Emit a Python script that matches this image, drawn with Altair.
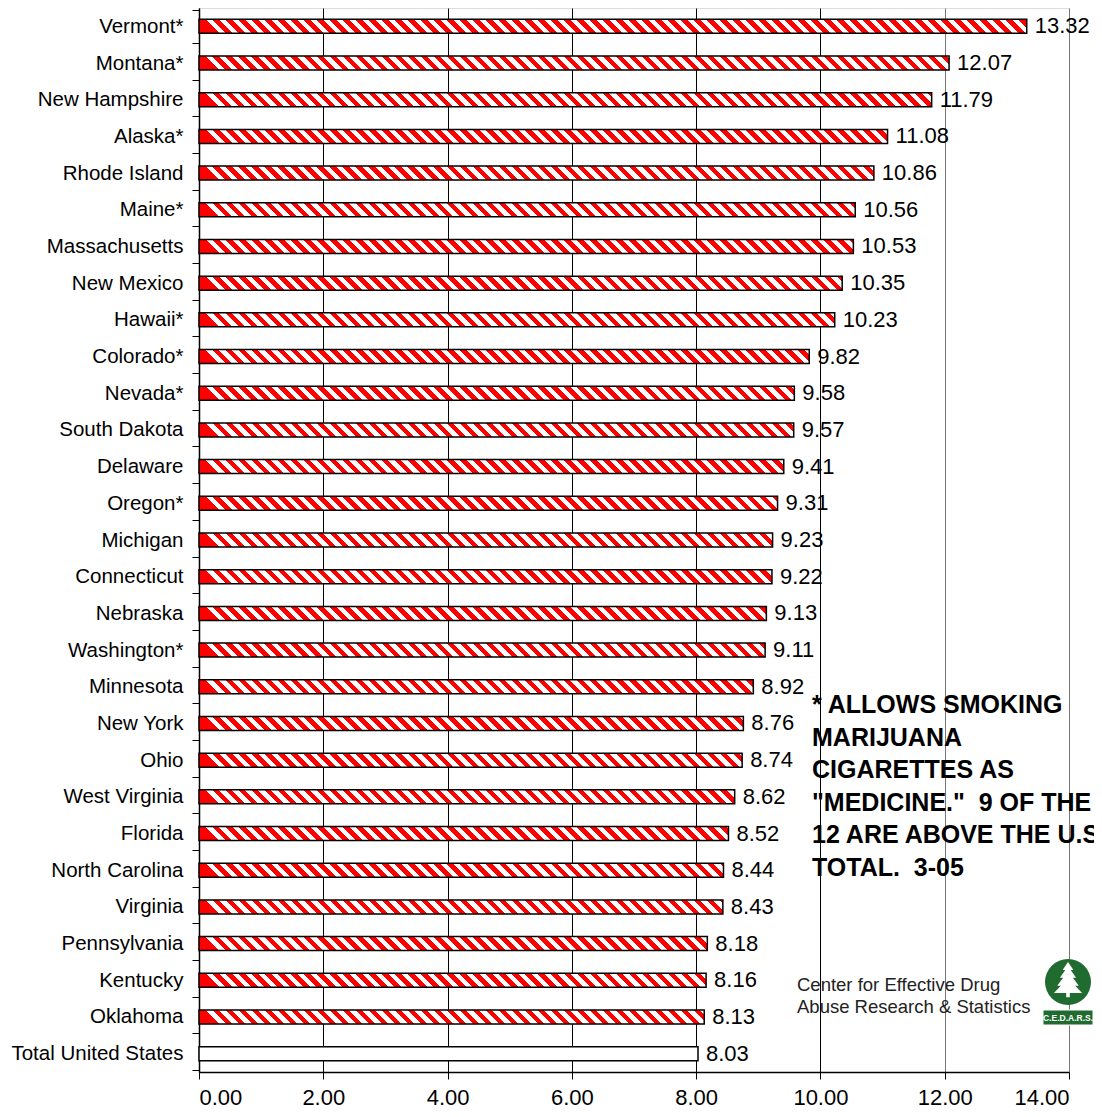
import altair as alt
import pandas as pd

states = ["Vermont*", "Montana*", "New Hampshire", "Alaska*", "Rhode Island", "Maine*",
          "Massachusetts", "New Mexico", "Hawaii*", "Colorado*", "Nevada*", "South Dakota",
          "Delaware", "Oregon*", "Michigan", "Connecticut", "Nebraska", "Washington*",
          "Minnesota", "New York", "Ohio", "West Virginia", "Florida", "North Carolina",
          "Virginia", "Pennsylvania", "Kentucky", "Oklahoma", "Total United States"]
values = [13.32, 12.07, 11.79, 11.08, 10.86, 10.56, 10.53, 10.35, 10.23, 9.82, 9.58, 9.57,
          9.41, 9.31, 9.23, 9.22, 9.13, 9.11, 8.92, 8.76, 8.74, 8.62, 8.52, 8.44, 8.43,
          8.18, 8.16, 8.13, 8.03]
total_label = "Total United States"
x_ticks = [0, 2, 4, 6, 8, 10, 12, 14]
note_lines = ["* ALLOWS SMOKING", "MARIJUANA", "CIGARETTES AS",
              "\"MEDICINE.\"\u00a0 9 OF THE", "12 ARE ABOVE THE U.S.", "TOTAL.\u00a0 3-05"]
credit_lines = ["Center for Effective Drug", "Abuse Research & Statistics"]
logo_text = "C.E.D.A.R.S."

W, H = 870, 1064
XMAX = 14
BAR = 14
PERIOD = 13
FONT = "Liberation Sans"
GREEN = "#1f6b30"

df = pd.DataFrame({"state": states, "value": values})


def stripes(v):
    w = v * W / XMAX
    stops = []
    k = 0
    while k * PERIOD / w < 1:
        a = min(k * PERIOD / w, 1)
        b = min((k + 0.5) * PERIOD / w, 1)
        c = min((k + 1) * PERIOD / w, 1)
        stops += [{"offset": a, "color": "#ff0000"}, {"offset": b, "color": "#ff0000"},
                  {"offset": b, "color": "#ffffff"}, {"offset": c, "color": "#ffffff"}]
        k += 1
    return {"gradient": "linear", "x1": 0, "y1": 0, "x2": 1, "y2": -BAR / w, "stops": stops}


x_enc = alt.X("value:Q", scale=alt.Scale(domain=[0, XMAX], nice=False),
              axis=alt.Axis(values=x_ticks, format=".2f", title=None, grid=True,
                            gridColor={"condition": {"test": "datum.value >= 12", "value": "#777777"},
                                       "value": "#000000"},
                            gridWidth=1, tickSize=7, tickColor="black", domainColor="black",
                            domainWidth=1.5, labelFontSize=22, labelPadding=8,
                            labelColor="black", labelFont=FONT))
y_enc = alt.Y("state:N", sort=states, scale=alt.Scale(domain=states),
              axis=alt.Axis(title=None, tickBand="extent", tickSize=7, tickColor="black",
                            domainColor="black", domainWidth=1.5, labelFontSize=20.5,
                            labelPadding=9, labelColor="black", labelFont=FONT,
                            labelLimit=300, grid=False))

layers = []
for s, v in zip(states, values):
    sub = df[df.state == s]
    fill = "#ffffff" if s == total_label else stripes(v)
    layers.append(alt.Chart(sub).mark_bar(size=BAR, stroke="black", strokeWidth=1.5, fill=fill)
                  .encode(x=x_enc, y=y_enc))

labels = alt.Chart(df).mark_text(align="left", baseline="middle", dx=8, fontSize=22,
                                 font=FONT, color="black").encode(
    x=x_enc, y=y_enc, text=alt.Text("value:Q", format=".2f"))
layers.append(labels)

one = pd.DataFrame({"k": [0]})
note = alt.Chart(one).mark_text(text=note_lines, align="left", baseline="middle", fontSize=25,
                                fontWeight="bold", font=FONT, lineHeight=32.6,
                                color="black").encode(x=alt.value(613), y=alt.value(697))
credit = alt.Chart(one).mark_text(text=credit_lines, align="left", baseline="middle",
                                  fontSize=18.5, font=FONT, lineHeight=22,
                                  color="#222222").encode(x=alt.value(598), y=alt.value(977))
circle = alt.Chart(one).mark_point(shape="circle", filled=True, fill=GREEN, opacity=1,
                                   size=2116, strokeWidth=0).encode(
    x=alt.value(869), y=alt.value(974))
tree_path = ("M0,-1 L0.3,-0.55 L0.15,-0.55 L0.45,-0.12 L0.27,-0.12 L0.6,0.32 L0.4,0.32 "
             "L0.78,0.72 L0.1,0.72 L0.1,0.95 L-0.1,0.95 L-0.1,0.72 L-0.78,0.72 L-0.4,0.32 "
             "L-0.6,0.32 L-0.27,-0.12 L-0.45,-0.12 L-0.15,-0.55 L-0.3,-0.55 Z")
tree = alt.Chart(one).mark_point(shape=tree_path, filled=True, fill="white", opacity=1,
                                 size=1300, strokeWidth=0).encode(
    x=alt.value(869), y=alt.value(972))
badge = alt.Chart(one).mark_rect(fill=GREEN, stroke="white", strokeWidth=1).encode(
    x=alt.value(844), x2=alt.value(894), y=alt.value(1002), y2=alt.value(1017))
badge_txt = alt.Chart(one).mark_text(text=logo_text, fontSize=8.5, fontWeight="bold",
                                     font=FONT, color="white", align="center",
                                     baseline="middle").encode(
    x=alt.value(869), y=alt.value(1009.5))

layers += [note, credit, circle, tree, badge, badge_txt]

chart = alt.layer(*layers).properties(
    width=W, height=H,
    autosize=alt.AutoSizeParams(type="none"),
    padding={"left": 191, "top": 0, "right": 25, "bottom": 37},
).configure_view(stroke="#808080", strokeWidth=1.5).configure(background="white")

chart.save("out.html", embed_options={"renderer": "svg", "actions": False})
